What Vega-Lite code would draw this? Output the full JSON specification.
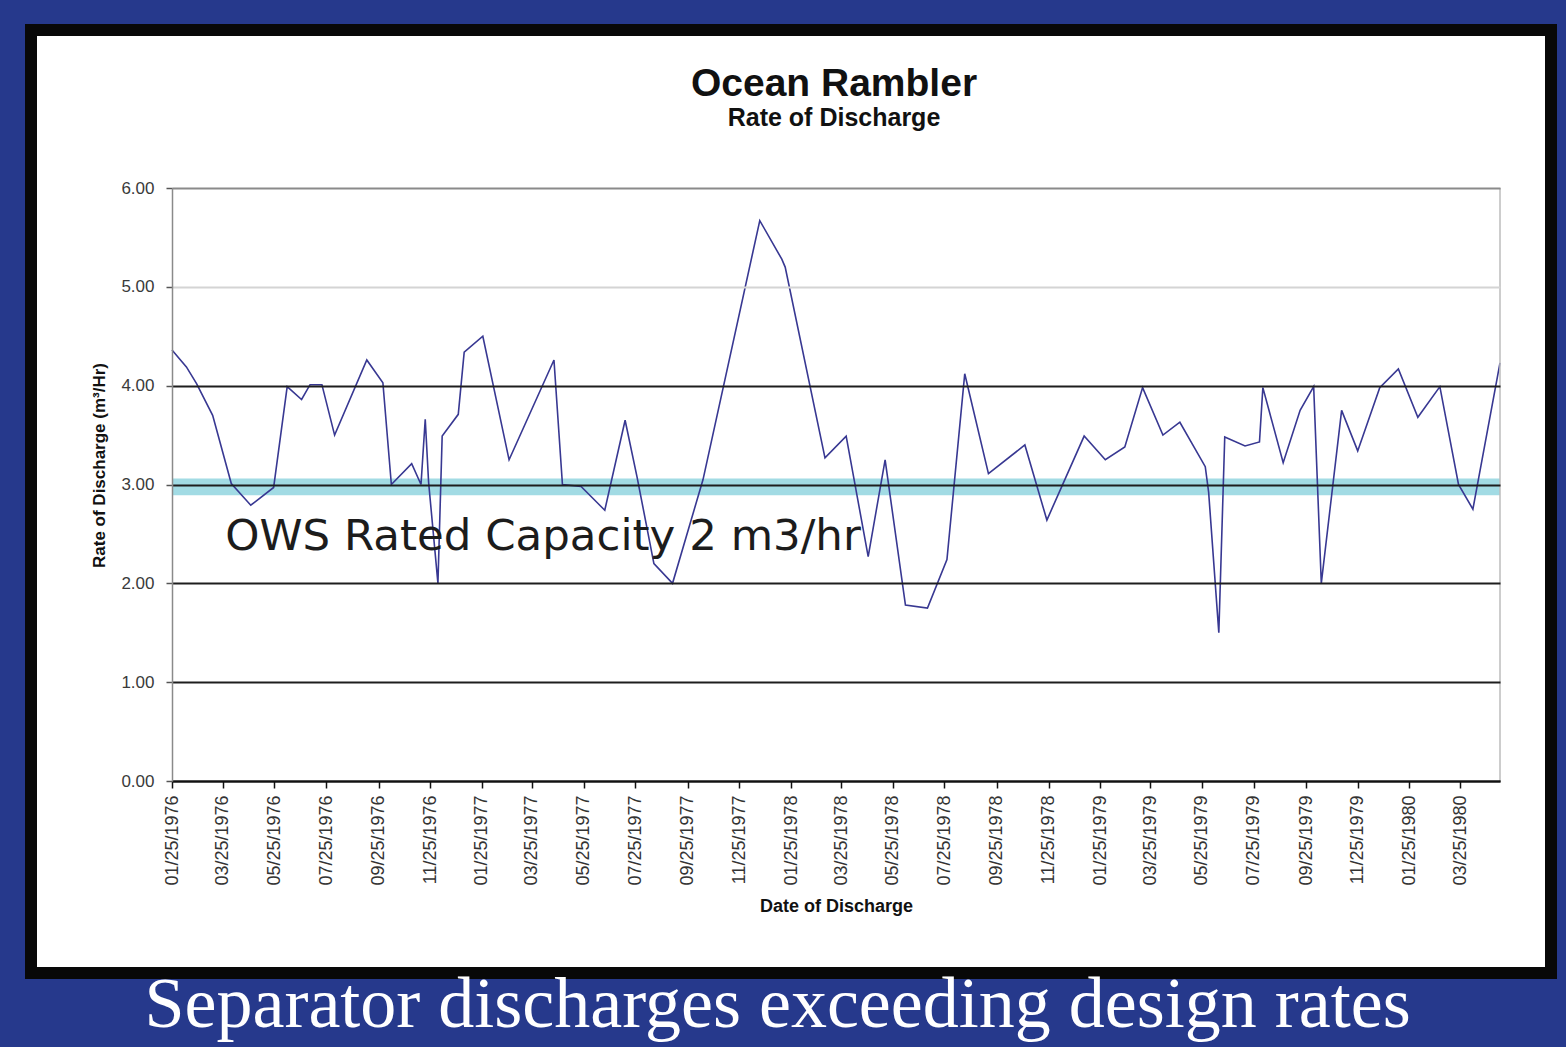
{
  "$schema": "https://vega.github.io/schema/vega-lite/v6.json",
  "width": 1520,
  "height": 943,
  "autosize": {"type": "none"},
  "padding": {"left": 31, "top": 30, "right": 15, "bottom": 74},
  "background": "#26398c",
  "config": {
    "view": {"fill": "white", "stroke": "#080808", "strokeWidth": 12},
    "font": "Liberation Sans"
  },
  "title": {
    "text": "Ocean Rambler",
    "subtitle": "Rate of Discharge",
    "anchor": "middle",
    "offset": -101,
    "dx": 43,
    "font": "Liberation Sans",
    "fontSize": 39,
    "fontWeight": "bold",
    "color": "#111111",
    "subtitleFont": "Liberation Sans",
    "subtitleFontSize": 25,
    "subtitleFontWeight": "bold",
    "subtitleColor": "#111111",
    "subtitlePadding": 2
  },
  "layer": [
    {
      "data": {"values": [{}]},
      "mark": {"type": "rect", "color": "#a2dbe4"},
      "encoding": {
        "x": {"datum": {"year": 1976, "month": 1, "date": 25, "utc": true}, "type": "temporal"},
        "x2": {"datum": {"year": 1980, "month": 5, "date": 11, "utc": true}},
        "y": {"datum": 2.89, "type": "quantitative"},
        "y2": {"datum": 3.06}
      }
    },
    {
      "data": {
        "values": [
          {"date": "1976-01-25", "rate": 4.36},
          {"date": "1976-02-11", "rate": 4.19},
          {"date": "1976-02-23", "rate": 4.02},
          {"date": "1976-03-13", "rate": 3.70},
          {"date": "1976-04-04", "rate": 3.01},
          {"date": "1976-04-27", "rate": 2.79},
          {"date": "1976-05-24", "rate": 2.97},
          {"date": "1976-06-09", "rate": 3.99},
          {"date": "1976-06-26", "rate": 3.86},
          {"date": "1976-07-06", "rate": 4.01},
          {"date": "1976-07-20", "rate": 4.01},
          {"date": "1976-08-04", "rate": 3.50},
          {"date": "1976-09-11", "rate": 4.26},
          {"date": "1976-09-30", "rate": 4.03},
          {"date": "1976-10-10", "rate": 3.00},
          {"date": "1976-11-03", "rate": 3.21},
          {"date": "1976-11-14", "rate": 3.00},
          {"date": "1976-11-19", "rate": 3.66},
          {"date": "1976-11-23", "rate": 3.02},
          {"date": "1976-12-04", "rate": 2.00},
          {"date": "1976-12-09", "rate": 3.49},
          {"date": "1976-12-28", "rate": 3.71},
          {"date": "1977-01-04", "rate": 4.34},
          {"date": "1977-01-26", "rate": 4.50},
          {"date": "1977-02-26", "rate": 3.25},
          {"date": "1977-04-20", "rate": 4.26},
          {"date": "1977-04-30", "rate": 3.00},
          {"date": "1977-05-22", "rate": 2.98},
          {"date": "1977-06-19", "rate": 2.74},
          {"date": "1977-07-13", "rate": 3.65},
          {"date": "1977-07-27", "rate": 3.08},
          {"date": "1977-08-16", "rate": 2.20},
          {"date": "1977-09-07", "rate": 2.00},
          {"date": "1977-10-13", "rate": 3.05},
          {"date": "1977-12-19", "rate": 5.67},
          {"date": "1978-01-14", "rate": 5.28},
          {"date": "1978-01-18", "rate": 5.20},
          {"date": "1978-03-06", "rate": 3.27},
          {"date": "1978-03-31", "rate": 3.49},
          {"date": "1978-04-26", "rate": 2.27},
          {"date": "1978-05-16", "rate": 3.25},
          {"date": "1978-06-09", "rate": 1.78},
          {"date": "1978-07-05", "rate": 1.75},
          {"date": "1978-07-28", "rate": 2.24},
          {"date": "1978-08-18", "rate": 4.12},
          {"date": "1978-09-15", "rate": 3.11},
          {"date": "1978-10-28", "rate": 3.40},
          {"date": "1978-11-23", "rate": 2.64},
          {"date": "1979-01-06", "rate": 3.49},
          {"date": "1979-01-31", "rate": 3.25},
          {"date": "1979-02-23", "rate": 3.38},
          {"date": "1979-03-16", "rate": 3.98},
          {"date": "1979-04-09", "rate": 3.50},
          {"date": "1979-04-29", "rate": 3.63},
          {"date": "1979-05-29", "rate": 3.18},
          {"date": "1979-06-02", "rate": 2.92},
          {"date": "1979-06-14", "rate": 1.50},
          {"date": "1979-06-21", "rate": 3.48},
          {"date": "1979-07-15", "rate": 3.39},
          {"date": "1979-08-01", "rate": 3.43},
          {"date": "1979-08-05", "rate": 3.98},
          {"date": "1979-08-29", "rate": 3.22},
          {"date": "1979-09-18", "rate": 3.75},
          {"date": "1979-10-04", "rate": 3.99},
          {"date": "1979-10-13", "rate": 2.00},
          {"date": "1979-11-06", "rate": 3.75},
          {"date": "1979-11-25", "rate": 3.34},
          {"date": "1979-12-21", "rate": 3.98},
          {"date": "1980-01-12", "rate": 4.17},
          {"date": "1980-02-04", "rate": 3.68},
          {"date": "1980-03-01", "rate": 3.99},
          {"date": "1980-03-23", "rate": 3.00},
          {"date": "1980-04-09", "rate": 2.75},
          {"date": "1980-05-11", "rate": 4.23}
        ]
      },
      "mark": {"type": "line", "color": "#383892", "strokeWidth": 1.6},
      "encoding": {
        "x": {
          "field": "date",
          "type": "temporal",
          "scale": {
            "type": "utc",
            "domain": [
              {"year": 1976, "month": 1, "date": 25, "utc": true},
              {"year": 1980, "month": 5, "date": 11, "utc": true}
            ],
            "range": [141, 1469],
            "nice": false
          },
          "axis": {
            "title": "Date of Discharge",
            "values": [
              {"year": 1976, "month": 1, "date": 25, "utc": true},
              {"year": 1976, "month": 3, "date": 25, "utc": true},
              {"year": 1976, "month": 5, "date": 25, "utc": true},
              {"year": 1976, "month": 7, "date": 25, "utc": true},
              {"year": 1976, "month": 9, "date": 25, "utc": true},
              {"year": 1976, "month": 11, "date": 25, "utc": true},
              {"year": 1977, "month": 1, "date": 25, "utc": true},
              {"year": 1977, "month": 3, "date": 25, "utc": true},
              {"year": 1977, "month": 5, "date": 25, "utc": true},
              {"year": 1977, "month": 7, "date": 25, "utc": true},
              {"year": 1977, "month": 9, "date": 25, "utc": true},
              {"year": 1977, "month": 11, "date": 25, "utc": true},
              {"year": 1978, "month": 1, "date": 25, "utc": true},
              {"year": 1978, "month": 3, "date": 25, "utc": true},
              {"year": 1978, "month": 5, "date": 25, "utc": true},
              {"year": 1978, "month": 7, "date": 25, "utc": true},
              {"year": 1978, "month": 9, "date": 25, "utc": true},
              {"year": 1978, "month": 11, "date": 25, "utc": true},
              {"year": 1979, "month": 1, "date": 25, "utc": true},
              {"year": 1979, "month": 3, "date": 25, "utc": true},
              {"year": 1979, "month": 5, "date": 25, "utc": true},
              {"year": 1979, "month": 7, "date": 25, "utc": true},
              {"year": 1979, "month": 9, "date": 25, "utc": true},
              {"year": 1979, "month": 11, "date": 25, "utc": true},
              {"year": 1980, "month": 1, "date": 25, "utc": true},
              {"year": 1980, "month": 3, "date": 25, "utc": true}
            ],
            "labelExpr": "utcFormat(datum.value, '%m/%d/%Y')",
            "labelAngle": 270,
            "labelFlush": false,
            "labelOverlap": false,
            "offset": -192,
            "zindex": 1,
            "grid": false,
            "domainColor": "#111111",
            "domainWidth": 2,
            "tickColor": "#111111",
            "tickSize": 7,
            "tickWidth": 1.5,
            "labelFont": "Liberation Sans",
            "labelFontSize": 18,
            "labelColor": "#333333",
            "labelPadding": 7,
            "titleFont": "Liberation Sans",
            "titleFontSize": 18,
            "titleFontWeight": "bold",
            "titleColor": "#111111",
            "titlePadding": 12
          }
        },
        "y": {
          "field": "rate",
          "type": "quantitative",
          "scale": {"domain": [0, 6], "range": [751, 158], "nice": false, "zero": false},
          "axis": {
            "title": "Rate of Discharge (m³/Hr)",
            "values": [0, 1, 2, 3, 4, 5, 6],
            "format": ".2f",
            "offset": -141,
            "zindex": 1,
            "grid": true,
            "gridColor": {
              "condition": [
                {"test": "datum.value == 6", "value": "#8a8a8a"},
                {"test": "datum.value == 5", "value": "#d4d4d4"}
              ],
              "value": "#1e1e1e"
            },
            "gridWidth": 2,
            "domainColor": "#8a8a8a",
            "domainWidth": 1.5,
            "tickColor": "#555555",
            "tickSize": 6,
            "tickWidth": 1.5,
            "labelFont": "Liberation Sans",
            "labelFontSize": 17,
            "labelColor": "#3a3a3a",
            "labelPadding": 12,
            "titleFont": "Liberation Sans",
            "titleFontSize": 17,
            "titleFontWeight": "bold",
            "titleColor": "#111111",
            "titlePadding": 12,
            "titleY": 435
          }
        }
      }
    },
    {
      "data": {"values": [{}]},
      "mark": {"type": "rule", "color": "#bdbdbd", "strokeWidth": 1.5},
      "encoding": {
        "x": {"datum": {"year": 1980, "month": 5, "date": 11, "utc": true}, "type": "temporal"},
        "y": {"datum": 0, "type": "quantitative"},
        "y2": {"datum": 6}
      }
    },
    {
      "data": {"values": [{}]},
      "mark": {
        "type": "text",
        "text": "OWS Rated Capacity 2 m3/hr",
        "align": "left",
        "baseline": "alphabetic",
        "font": "DejaVu Sans",
        "fontSize": 43.5,
        "color": "#1c1c1c"
      },
      "encoding": {
        "x": {"datum": {"year": 1976, "month": 3, "date": 28, "utc": true}, "type": "temporal"},
        "y": {"datum": 2.34, "type": "quantitative"}
      }
    },
    {
      "data": {"values": [{}]},
      "mark": {
        "type": "text",
        "text": "Separator discharges exceeding design rates",
        "align": "center",
        "baseline": "alphabetic",
        "font": "Liberation Serif",
        "fontSize": 72,
        "color": "#ffffff"
      },
      "encoding": {
        "x": {"datum": {"year": 1978, "month": 1, "date": 9, "utc": true}, "type": "temporal"},
        "y": {"datum": -2.49, "type": "quantitative"}
      }
    }
  ]
}
